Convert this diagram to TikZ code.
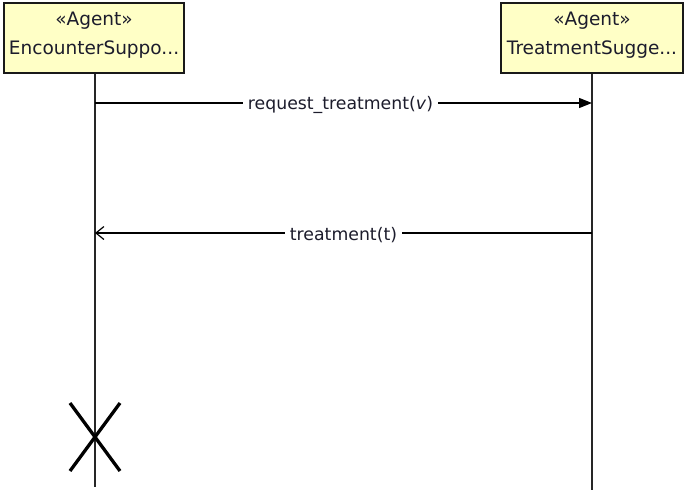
\documentclass[tikz,border=0pt]{standalone}
\usepackage{fontspec}
\setmainfont{DejaVu Sans}
\usetikzlibrary{arrows.meta,calc}
\definecolor{agentfill}{HTML}{FFFFC6}
\definecolor{msgtext}{HTML}{1C1C2C}
\tikzset{
  agent/.style={draw=black!90, line width=1.8pt, fill=agentfill, minimum width=180pt,
    minimum height=70pt, inner sep=0pt},
  agenttext/.style={anchor=base, inner sep=0pt, text=msgtext, font=\fontsize{18.5}{22}\selectfont},
  lifeline/.style={draw=black!85, line width=1.3pt},
  msg/.style={draw=black, line width=1.2pt},
  msglabel/.style={fill=white, inner sep=5pt, text=msgtext, font=\fontsize{17.3}{20}\selectfont},
  destroy/.style={draw=black, line width=3.3pt}
}
\begin{document}
\begin{tikzpicture}[x=1pt,y=-1pt]
  \useasboundingbox (0,0) rectangle (686,493);
  % participants
  \node[agent] (enc) at (94,38) {};
  \node[agent, minimum width=182pt] (trt) at (592,38) {};
  \node[agenttext] (encSt) at ($(enc.north)+(0,23)$) {«Agent»};
  \node[agenttext] (encNm) at ($(enc.north)+(0,52)$) {EncounterSuppo...};
  \node[agenttext] (trtSt) at ($(trt.north)+(0,23)$) {«Agent»};
  \node[agenttext] (trtNm) at ($(trt.north)+(0,52)$) {TreatmentSugge...};
  % lifelines
  \coordinate (encEnd) at (95,487);
  \coordinate (trtEnd) at (592,490);
  \draw[lifeline] (enc.south -| encEnd) -- (encEnd);
  \draw[lifeline] (trt.south -| trtEnd) -- (trtEnd);
  % messages
  \coordinate (m1s) at (95,103);
  \coordinate (m1e) at (592,103);
  \coordinate (m2s) at (592,233);
  \coordinate (m2e) at (95,233);
  \draw[msg, -{Triangle[length=13pt,width=10pt]}] (m1s) -- node[msglabel, xshift=-3pt, yshift=-2pt] (l1) {request\_treatment(\textit{v})} (m1e);
  \draw[msg, -{Straight Barb[length=8pt,width=13pt]}] (m2s) -- node[msglabel, yshift=-2pt] (l2) {treatment(t)} (m2e);
  % destruction mark
  \coordinate (xc) at (95,437);
  \draw[destroy] ($(xc)+(-25,-34)$) -- ($(xc)+(25,34)$);
  \draw[destroy] ($(xc)+(25,-34)$) -- ($(xc)+(-25,34)$);
\end{tikzpicture}
\end{document}
